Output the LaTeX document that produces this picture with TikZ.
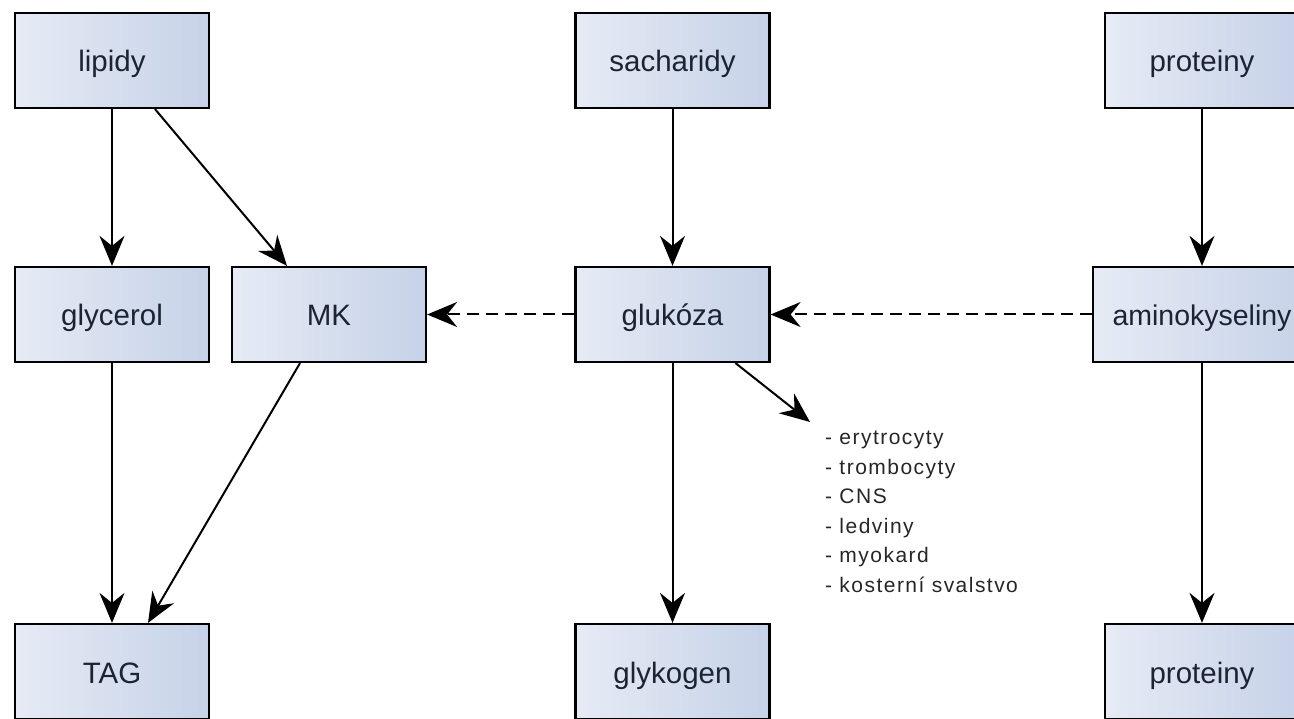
\documentclass[tikz,border=0pt]{standalone}
\usepackage{fontspec}
\setmainfont{Liberation Sans}
\usetikzlibrary{arrows.meta,calc}

\definecolor{boxL}{HTML}{E6EBF5}
\definecolor{boxR}{HTML}{C6D2E8}
\definecolor{boxText}{HTML}{1C2433}

\tikzset{
  x=1pt, y=-1pt,
  entity/.style={draw=black, line width=2.2pt, left color=boxL, right color=boxR,
    minimum width=194pt, minimum height=95pt, inner sep=0pt,
    text height=23pt, text depth=0pt,
    text=boxText, font=\fontsize{29.5}{33}\selectfont},
  flow/.style={line width=2pt, -{Stealth[length=30pt,width=25pt,inset=10pt]}},
  convert/.style={flow, dash pattern=on 12pt off 7pt},
}

\begin{document}
\begin{tikzpicture}
\useasboundingbox (0,0) rectangle (1294,719);
\clip (0,0) rectangle (1294,719);

% sources
\node[entity] (lipidy)    at (112,60.5)   {lipidy};
\node[entity] (sacharidy) at (672.5,60.5) {sacharidy};
\node[entity] (protA)     at (1202,60.5)  {proteiny};

% intermediates
\node[entity] (glycerol)  at (112,314.5)   {glycerol};
\node[entity] (MK)        at (329,314.5)   {MK};
\node[entity] (glukoza)   at (672.5,314.5) {glukóza};
\node[entity, minimum width=218pt, font=\fontsize{28.5}{32}\selectfont]
  (amino) at (1202,314.5) {aminokyseliny};

% products
\node[entity] (TAG)       at (112,671.5)   {TAG};
\node[entity] (glykogen)  at (672.5,671.5) {glykogen};
\node[entity] (protB)     at (1202,671.5)  {proteiny};

% tissues using glucose
\node[anchor=north west, align=left, inner sep=0pt, text=black!85,
      font=\fontsize{21}{29.5}\selectfont\addfontfeature{LetterSpace=7}]
  (tissues) at (825,431)
  {- erytrocyty\\- trombocyty\\- CNS\\- ledviny\\- myokard\\- kosterní svalstvo};
\coordinate (tissuetip) at (810,422);

% connectors
\draw[flow] (lipidy) -- (glycerol);
\draw[flow] ([xshift=43pt]lipidy.south) -- ([xshift=-42pt]MK.north);
\draw[flow] (sacharidy) -- (glukoza);
\draw[flow] (protA) -- (protA |- amino.north);
\draw[convert] (glukoza) -- (MK);
\draw[convert] (amino) -- (glukoza);
\draw[flow] (glycerol) -- (TAG);
\draw[flow] ([xshift=-29pt]MK.south) -- ([xshift=36pt]TAG.north);
\draw[flow] (glukoza) -- (glykogen);
\draw[flow] (amino.south -| protB) -- (protB);
\draw[flow] ([xshift=63pt]glukoza.south) -- (tissuetip);
\end{tikzpicture}
\end{document}
